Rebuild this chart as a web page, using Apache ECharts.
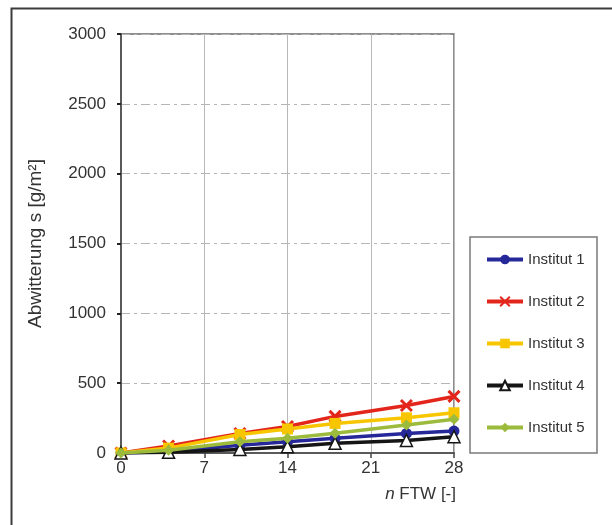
<!DOCTYPE html>
<html><head><meta charset="utf-8">
<script src="https://cdn.jsdelivr.net/npm/echarts@6/dist/echarts.min.js"></script>
<style>html,body{margin:0;padding:0;background:#fff}#c{width:612px;height:525px}</style>
</head><body><div id="c"></div>
<script>
const xValues = [0, 4, 10, 14, 18, 24, 28];
const seriesNames = ['Institut 1', 'Institut 2', 'Institut 3', 'Institut 4', 'Institut 5'];
const inst1 = [0, 10, 55, 80, 105, 140, 157];
const inst2 = [0, 50, 140, 190, 262, 340, 405];
const inst3 = [0, 35, 132, 172, 212, 252, 288];
const inst4 = [0, 5, 25, 45, 69, 90, 117];
const inst5 = [0, 20, 80, 105, 141, 200, 241];
const yTicks = [0, 500, 1000, 1500, 2000, 2500, 3000];
const xTicks = [0, 7, 14, 21, 28];

const allValues = [inst1, inst2, inst3, inst4, inst5];
const colors = ['#26289a', '#e3261b', '#f7c600', '#151515', '#9cbb3c'];
const symbols = ['circle', 'path://M0,0L10,10M10,0L0,10', 'rect', 'triangle', 'diamond'];

const chart = echarts.init(document.getElementById('c'), null, {renderer: 'canvas'});
const font = 'Liberation Sans, Arial, sans-serif';

const series = allValues.map((vals, i) => {
  const s = {
    name: seriesNames[i],
    type: 'line',
    data: vals.map((v, k) => [xValues[k], v]),
    symbol: symbols[i],
    symbolSize: i === 3 ? 12 : 11,
    showAllSymbol: true,
    lineStyle: {color: colors[i], width: 3.5},
    itemStyle: {color: colors[i], borderColor: colors[i], borderWidth: 0},
    z: 3 + i
  };
  if (i === 1) {
    s.itemStyle = {color: 'none', borderColor: colors[i], borderWidth: 3};
  }
  if (i === 3) {
    s.itemStyle = {color: '#ffffff', borderColor: colors[i], borderWidth: 1.5};
  }
  return s;
});

chart.setOption({
  animation: false,
  backgroundColor: '#ffffff',
  textStyle: {fontFamily: font},
  grid: {left: 121, top: 34, right: 158, bottom: 72, show: true, borderColor: '#6a6a6a', borderWidth: 1.5, containLabel: false},
  xAxis: {
    type: 'value', min: 0, max: 28, interval: 7,
    axisLine: {show: true, onZero: false, lineStyle: {color: '#5a5a5a', width: 2}},
    axisTick: {show: true, inside: false, length: 5, lineStyle: {color: '#444', width: 1.5}},
    axisLabel: {color: '#333', fontSize: 17, margin: 7, fontFamily: font,
      formatter: v => xTicks.includes(v) ? String(v) : ''},
    splitLine: {show: true, lineStyle: {color: '#b8b8b8', width: 1}}
  },
  yAxis: {
    type: 'value', min: 0, max: 3000, interval: 500,
    name: 'Abwitterung s [g/m²]', nameLocation: 'middle', nameGap: 76,
    nameTextStyle: {color: '#333', fontSize: 19, fontFamily: font},
    axisLine: {show: true, lineStyle: {color: '#5a5a5a', width: 2}},
    axisTick: {show: true, inside: false, length: 4, lineStyle: {color: '#222', width: 2}},
    axisLabel: {color: '#333', fontSize: 17, margin: 15, fontFamily: font,
      formatter: v => yTicks.includes(v) ? String(v) : ''},
    splitLine: {show: true, lineStyle: {color: '#b5b5b5', width: 1, type: [9, 4, 3, 4]}}
  },
  legend: {
    orient: 'vertical', left: 480, top: 247,
    itemWidth: 36, itemHeight: 12, itemGap: 27,
    lineStyle: {width: 4},
    textStyle: {color: '#333', fontSize: 15, fontFamily: font},
    data: seriesNames
  },
  graphic: [
    {type: 'rect', left: 9, top: 6, shape: {x: 0, y: 0, width: 700, height: 600}, style: {fill: 'none', stroke: '#3c3c3c', lineWidth: 2}, silent: true, z: 0},
    {type: 'rect', shape: {x: 470, y: 237, width: 127, height: 216}, style: {fill: 'none', stroke: '#7a7a7a', lineWidth: 1.5}, silent: true, z: 0},
    {type: 'text', right: 612 - 456, top: 486, style: {
      text: '{i|n} FTW [-]', fill: '#333', font: '17px ' + font,
      rich: {i: {fontStyle: 'italic', fontSize: 17, fontFamily: font, fill: '#333'}}
    }, z: 10}
  ],
  series: series
});
</script></body></html>
